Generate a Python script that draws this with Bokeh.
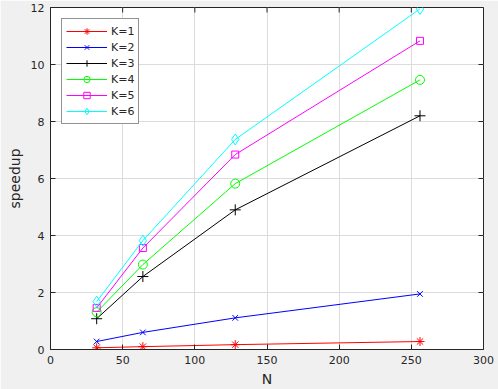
import math
from bokeh.plotting import figure
from bokeh.models import FixedTicker, Range1d, Legend, LegendItem
from bokeh.embed import file_html
from bokeh.resources import INLINE

N = [32, 64, 128, 256]
labels = ["K=1", "K=2", "K=3", "K=4", "K=5", "K=6"]
speedup = [
    [0.06, 0.10, 0.17, 0.28],
    [0.28, 0.60, 1.11, 1.95],
    [1.08, 2.56, 4.90, 8.20],
    [1.31, 2.98, 5.82, 9.46],
    [1.46, 3.56, 6.84, 10.83],
    [1.68, 3.82, 7.37, 11.95],
]
colors = ["#ff0000", "#0000ff", "#000000", "#00ff00", "#ff00ff", "#00ffff"]
markers = ["asterisk", "x", "cross", "circle", "square", "diamond"]
sizes = [9, 8, 11, 9, 7, 11]
xticks = [0, 50, 100, 150, 200, 250, 300]
yticks = [0, 2, 4, 6, 8, 10, 12]

FONT = "DejaVu Sans"
DARK = "#262626"
BG = "#f0f0f0"
XMAX, YMAX = xticks[-1], yticks[-1]

p = figure(width=498, height=389, output_backend="svg", toolbar_location=None,
           x_range=Range1d(xticks[0], XMAX), y_range=Range1d(yticks[0], YMAX),
           min_border_left=50, min_border_right=15, min_border_top=7, min_border_bottom=40)
p.background_fill_color = "white"
p.border_fill_color = BG
p.outline_line_color = DARK
p.outline_line_width = 1

for ax in (p.xaxis[0], p.yaxis[0]):
    ax.major_tick_in = 5
    ax.major_tick_out = 0
    ax.minor_tick_line_color = None
    ax.axis_line_color = DARK
    ax.major_tick_line_color = DARK
    ax.major_label_text_color = DARK
    ax.major_label_text_font = FONT
    ax.major_label_text_font_size = "11px"
    ax.axis_label_text_font = FONT
    ax.axis_label_text_font_style = "normal"
    ax.axis_label_text_color = DARK
    ax.axis_label_text_font_size = "14px"

p.xaxis[0].ticker = FixedTicker(ticks=xticks)
p.yaxis[0].ticker = FixedTicker(ticks=yticks)
p.xaxis[0].axis_label = "N"
p.yaxis[0].axis_label = "speedup"
p.xaxis[0].major_label_standoff = 6
p.xaxis[0].axis_label_standoff = 4
p.yaxis[0].major_label_standoff = 6
p.yaxis[0].axis_label_standoff = 5

p.xgrid.ticker = FixedTicker(ticks=xticks)
p.ygrid.ticker = FixedTicker(ticks=yticks)
p.grid.grid_line_color = "#dcdcdc"
p.grid.grid_line_width = 1

# inward box ticks on the top and right edges (MATLAB "box on")
p.ray(x=[XMAX] * len(yticks), y=yticks, length=5, length_units="screen",
      angle=math.pi, line_color=DARK, line_width=1)
p.ray(x=xticks, y=[YMAX] * len(xticks), length=5, length_units="screen",
      angle=-math.pi / 2, line_color=DARK, line_width=1)

items = []
for lab, ys, c, m, s in zip(labels, speedup, colors, markers, sizes):
    r1 = p.line(N, ys, line_color=c, line_width=1)
    r2 = p.scatter(N, ys, marker=m, size=s, line_color=c, fill_color=None, line_width=1)
    items.append(LegendItem(label=lab, renderers=[r1, r2]))

leg = Legend(items=items, location="top_left")
leg.margin = 11
leg.padding = 4
leg.spacing = 0
leg.glyph_width = 41
leg.glyph_height = 16
leg.label_height = 16
leg.label_standoff = 4
leg.label_text_font = FONT
leg.label_text_font_size = "11px"
leg.label_text_color = DARK
leg.border_line_color = DARK
leg.border_line_width = 1
leg.background_fill_color = "white"
leg.background_fill_alpha = 1
p.add_layout(leg, "center")

html = file_html(p, INLINE)
html = html.replace("<body>", '<body style="background:#f0f0f0">', 1)
open("out.html", "w").write(html)
